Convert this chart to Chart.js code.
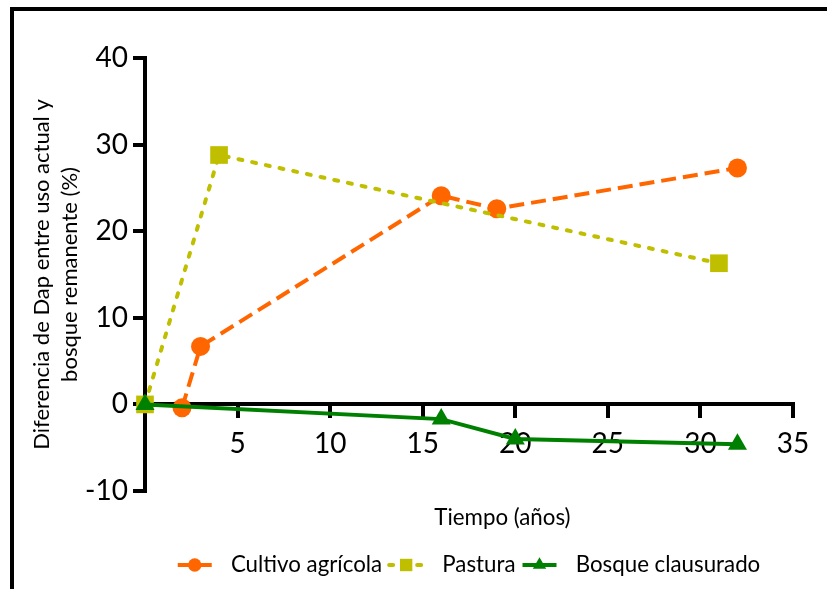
<!DOCTYPE html>
<html lang="es">
<head>
<meta charset="utf-8">
<title>Diferencia de Dap</title>
<script src="https://cdn.jsdelivr.net/npm/chart.js@4/dist/chart.umd.min.js"></script>
<style>
  html, body { margin: 0; padding: 0; background: #ffffff; overflow: hidden; }
  canvas { display: block; }
</style>
</head>
<body>
<canvas id="grafico" width="827" height="589"></canvas>
<script>
// Tiempo (años) y diferencia de Dap (%) para cada uso del suelo
const cultivoAnios = [2, 3, 16, 19, 32];
const cultivoDif   = [-0.4, 6.7, 24.1, 22.6, 27.3];

const pasturaAnios = [0, 4, 31];
const pasturaDif   = [0, 28.8, 16.3];

const bosqueAnios  = [0, 16, 20, 32];
const bosqueDif    = [0, -1.7, -4.0, -4.6];

const serieNombres = ['Cultivo agrícola', 'Pastura', 'Bosque clausurado'];
const yTicks = [-10, 0, 10, 20, 30, 40];
const xTicks = [0, 5, 10, 15, 20, 25, 30, 35];

const puntos = (xs, ys) => xs.map((x, i) => ({ x: x, y: ys[i] }));

const FONT = 'Lato';

// Marco negro del lienzo (bordes superior e izquierdo)
const marco = {
  id: 'marco',
  beforeDraw(chart) {
    const ctx = chart.ctx;
    ctx.save();
    ctx.fillStyle = '#000';
    ctx.fillRect(10, 7, 4, chart.height);
    ctx.fillRect(10, 7, chart.width, 4);
    ctx.restore();
  }
};

// Muestras de línea + marcador en la leyenda
const muestrasLeyenda = {
  id: 'muestrasLeyenda',
  afterDraw(chart) {
    const lg = chart.legend;
    if (!lg || !lg.legendHitBoxes) return;
    const ctx = chart.ctx;
    lg.legendItems.forEach((item, i) => {
      const hb = lg.legendHitBoxes[i];
      const ds = chart.data.datasets[item.datasetIndex];
      const cy = hb.top + hb.height / 2;
      const x0 = hb.left;
      ctx.save();
      ctx.strokeStyle = ds.borderColor;
      ctx.lineWidth = ds.borderWidth;
      ctx.lineCap = ds.borderCapStyle || 'butt';
      ctx.setLineDash(ds.borderDash || []);
      ctx.beginPath();
      ctx.moveTo(x0, cy);
      ctx.lineTo(x0 + 34, cy);
      ctx.stroke();
      ctx.setLineDash([]);
      ctx.fillStyle = ds.pointBackgroundColor;
      Chart.helpers.drawPoint(ctx, {
        pointStyle: ds.pointStyle,
        rotation: 0,
        radius: ds.pointRadius * 0.7,
        borderWidth: 0
      }, x0 + 17, cy);
      ctx.restore();
    });
  }
};

new Chart(document.getElementById('grafico'), {
  type: 'line',
  data: {
    datasets: [
      {
        label: serieNombres[0],
        data: puntos(cultivoAnios, cultivoDif),
        borderColor: '#FF6600',
        backgroundColor: '#FF6600',
        pointBackgroundColor: '#FF6600',
        borderWidth: 4,
        borderDash: [15, 7],
        pointStyle: 'circle',
        pointRadius: 9.5,
        pointBorderWidth: 0,
        order: 3,
        clip: false
      },
      {
        label: serieNombres[1],
        data: puntos(pasturaAnios, pasturaDif),
        borderColor: '#BFBF00',
        backgroundColor: '#BFBF00',
        pointBackgroundColor: '#BFBF00',
        borderWidth: 4,
        borderDash: [4, 10],
        borderCapStyle: 'round',
        pointStyle: 'rect',
        pointRadius: 12.5,
        pointBorderWidth: 0,
        order: 2,
        clip: false
      },
      {
        label: serieNombres[2],
        data: puntos(bosqueAnios, bosqueDif),
        borderColor: '#008000',
        backgroundColor: '#008000',
        pointBackgroundColor: '#008000',
        borderWidth: 4,
        pointStyle: 'triangle',
        pointRadius: 11,
        pointBorderWidth: 0,
        order: 1,
        clip: false
      }
    ]
  },
  options: {
    responsive: false,
    animation: false,
    devicePixelRatio: 1,
    layout: { padding: { left: 0, top: 58, right: 34, bottom: 2.85 } },
    plugins: {
      tooltip: { enabled: false },
      legend: {
        position: 'bottom',
        fullSize: false,
        title: { display: true, text: ' ', font: { size: 10, lineHeight: 1 }, padding: { top: 45.85, bottom: 0 } },
        labels: {
          color: '#000',
          font: { family: FONT, size: 22.3 },
          boxWidth: 42,
          padding: 7,
          sort: (a, b) => a.datasetIndex - b.datasetIndex,
          generateLabels(chart) {
            const items = Chart.defaults.plugins.legend.labels.generateLabels(chart);
            items.forEach(it => {
              it.fillStyle = 'rgba(0,0,0,0)';
              it.strokeStyle = 'rgba(0,0,0,0)';
              it.lineWidth = 0;
            });
            return items;
          }
        }
      }
    },
    scales: {
      x: {
        type: 'linear',
        position: { y: 0 },
        min: 0,
        max: 35,
        afterBuildTicks: s => { s.ticks = xTicks.map(v => ({ value: v })); },
        ticks: {
          color: '#000',
          font: { family: FONT, size: 28 },
          padding: 11,
          maxRotation: 0,
          autoSkip: false,
          callback: v => (v === 0 ? '' : v)
        },
        grid: { drawOnChartArea: false, drawTicks: true, tickLength: 12, color: '#000', lineWidth: 4 },
        border: { display: true, color: '#000', width: 4 },
        title: {
          display: true,
          text: '\u2002\u2002\u2002\u2002\u2002\u2002Tiempo (años)',
          color: '#000',
          font: { family: FONT, size: 22.3 },
          padding: { top: 32, bottom: 0 }
        }
      },
      y: {
        type: 'linear',
        position: 'left',
        min: -10,
        max: 40,
        afterBuildTicks: s => { s.ticks = yTicks.map(v => ({ value: v })); },
        afterFit: s => { s.width = 145; },
        ticks: {
          color: '#000',
          font: { family: FONT, size: 28 },
          padding: 5
        },
        grid: { drawOnChartArea: false, drawTicks: true, tickLength: 12, color: '#000', lineWidth: 4 },
        border: { display: true, color: '#000', width: 4 },
        title: {
          display: true,
          text: ['Diferencia de Dap entre uso actual y', 'bosque remanente (%)'],
          color: '#000',
          font: { family: FONT, size: 22, lineHeight: 1.3 },
          padding: { top: 27.5, bottom: 0 }
        }
      }
    }
  },
  plugins: [marco, muestrasLeyenda]
});
</script>
</body>
</html>
